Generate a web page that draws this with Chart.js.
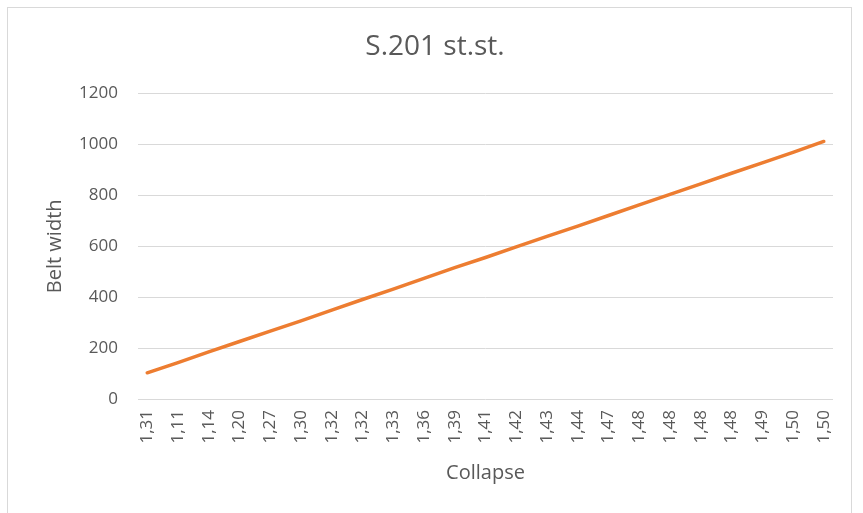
<!DOCTYPE html>
<html>
<head>
<meta charset="utf-8">
<script src="https://cdn.jsdelivr.net/npm/chart.js@4.4.1/dist/chart.umd.min.js"></script>
<style>
  html, body { margin: 0; padding: 0; background: #fff; overflow: hidden; }
  #frame {
    position: absolute; left: 7px; top: 7px; width: 845px; height: 530px;
    border: 1px solid #d9d9d9; box-sizing: border-box;
  }
  #wrap { position: absolute; left: 0; top: 0; width: 863px; height: 513px; }
</style>
</head>
<body>
<div id="frame"></div>
<div id="wrap"><canvas id="beltChart" width="863" height="513"></canvas></div>
<script>
// collapse readings along the x axis (as printed, comma decimals)
const collapseLabels = [
  '1,31', '1,11', '1,14', '1,20', '1,27', '1,30', '1,32', '1,32', '1,33', '1,36', '1,39',
  '1,41', '1,42', '1,43', '1,44', '1,47', '1,48', '1,48', '1,48', '1,48', '1,49', '1,50', '1,50'
];
// belt width for each reading
const beltWidth = [
  103, 143, 185, 226, 267, 307, 349, 391, 432, 474, 516, 556,
  598, 639, 679, 721, 763, 804, 845, 887, 928, 969, 1012
];
const yTicks = { min: 0, max: 1200, step: 200 };

const textColor = '#595959';
const gridColor = '#d9d9d9';
const fontFamily = '"Open Sans", "Liberation Sans", sans-serif';

const points = beltWidth.map((v, i) => ({ x: i, y: v }));

new Chart(document.getElementById('beltChart').getContext('2d'), {
  type: 'line',
  data: {
    datasets: [{
      label: 'Belt width',
      data: points,
      borderColor: '#ED7D31',
      borderWidth: 3.5,
      borderCapStyle: 'round',
      borderJoinStyle: 'round',
      pointRadius: 0,
      tension: 0,
      fill: false
    }]
  },
  options: {
    responsive: false,
    animation: false,
    // left/right padding keeps the title centred on the frame
    layout: { padding: { left: 37, right: 30, top: 0, bottom: 0 } },
    plugins: {
      legend: { display: false },
      tooltip: { enabled: false },
      title: {
        display: true,
        text: 'S.201 st.st.',
        color: textColor,
        font: { family: fontFamily, size: 28, weight: 'normal' },
        padding: { top: 30, bottom: 30 }
      }
    },
    scales: {
      x: {
        type: 'linear',
        min: -0.3,
        max: collapseLabels.length - 0.7,
        grid: { display: false, drawTicks: false },
        border: { display: false },
        afterBuildTicks: function(scale) {
          scale.ticks = collapseLabels.map((_, i) => ({ value: i }));
        },
        afterFit: function(scale) { scale.height = 114; },
        ticks: {
          autoSkip: false,
          minRotation: 90,
          maxRotation: 90,
          padding: 11,
          color: textColor,
          font: { family: fontFamily, size: 17 },
          callback: function(value) { return collapseLabels[value]; }
        },
        title: {
          display: true,
          text: 'Collapse',
          color: textColor,
          font: { family: fontFamily, size: 20 },
          padding: { top: 0, bottom: 28 }
        }
      },
      y: {
        min: yTicks.min,
        max: yTicks.max,
        grid: { color: gridColor, lineWidth: 1, drawTicks: false },
        border: { display: false },
        afterFit: function(scale) { scale.width = 101; },
        ticks: {
          stepSize: yTicks.step,
          padding: 20,
          color: textColor,
          font: { family: fontFamily, size: 17 },
          callback: function(value) { return String(value); }
        },
        title: {
          display: true,
          text: 'Belt width',
          color: textColor,
          font: { family: fontFamily, size: 20 },
          padding: { top: 6, bottom: 0 }
        }
      }
    }
  }
});
</script>
</body>
</html>
